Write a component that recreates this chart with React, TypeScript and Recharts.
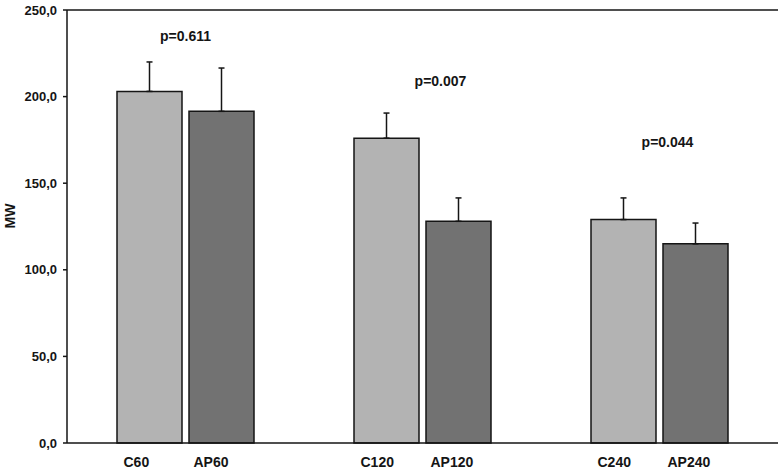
import { BarChart, Bar, XAxis, YAxis, ErrorBar, ReferenceLine, ReferenceDot } from 'recharts';

const groups = ['60', '120', '240'];
const cValues = [203, 176, 129];
const apValues = [191.5, 128, 115];
const cErrors = [17, 14.5, 12.5];
const apErrors = [25, 13.5, 12];
const pLabels = ['p=0.611', 'p=0.007', 'p=0.044'];
const pY = [235, 209, 174];
const yTicks = [0, 50, 100, 150, 200, 250];

// small horizontal nudges of the p annotations relative to group centre
const pDx = [0, 18, 8];

const data = groups.map((g, i) => ({
  group: g,
  C: cValues[i],
  AP: apValues[i],
  cErr: [0, cErrors[i]],
  apErr: [0, apErrors[i]],
}));

const FONT = '"Liberation Sans", Arial, sans-serif';
const INK = '#151515';

function GroupTick(props: any) {
  const { x, y, payload } = props;
  return (
    <g fontFamily={FONT} fontWeight="bold" fontSize={14} fill={INK}>
      <text x={x - 62} y={y + 16} textAnchor="start">{`C${payload.value}`}</text>
      <text x={x + 8} y={y + 16} textAnchor="start">{`AP${payload.value}`}</text>
    </g>
  );
}

export default function App() {
  return (
    <div style={{ position: 'absolute', left: 0, top: 0, background: '#fff', fontFamily: FONT }}>
      <BarChart
        width={781}
        height={472}
        data={data}
        margin={{ top: 10, right: 3, bottom: 0, left: 0 }}
        barSize={65}
        barGap={7}
      >
        <XAxis
          dataKey="group"
          height={29}
          tickLine={false}
          axisLine={{ stroke: INK, strokeWidth: 1.5 }}
          tick={<GroupTick />}
          interval={0}
        />
        <YAxis
          width={67}
          domain={[0, 250]}
          ticks={yTicks}
          tickSize={4}
          tickMargin={6}
          tickFormatter={(v: number) => v.toFixed(1).replace('.', ',')}
          tick={{ fill: INK, fontSize: 13, fontWeight: 'bold', fontFamily: FONT }}
          axisLine={{ stroke: INK, strokeWidth: 1.5 }}
          tickLine={{ stroke: INK, strokeWidth: 1.5 }}
          label={{
            content: () => (
              <text
                transform="translate(15,216) rotate(-90)"
                textAnchor="middle"
                fontFamily={FONT}
                fontWeight="bold"
                fontSize={14}
                fill={INK}
              >
                MW
              </text>
            ),
          }}
        />
        <YAxis
          yAxisId="right"
          orientation="right"
          width={0}
          domain={[0, 250]}
          tick={false}
          tickLine={false}
          axisLine={{ stroke: INK, strokeWidth: 1.5 }}
        />
        <ReferenceLine y={250} stroke={INK} strokeWidth={1.5} />
        <Bar dataKey="C" fill="#b3b3b3" stroke={INK} strokeWidth={1.5} isAnimationActive={false}>
          <ErrorBar dataKey="cErr" direction="y" width={3} stroke={INK} strokeWidth={1.5} isAnimationActive={false} />
        </Bar>
        <Bar dataKey="AP" fill="#727272" stroke={INK} strokeWidth={1.5} isAnimationActive={false}>
          <ErrorBar dataKey="apErr" direction="y" width={3} stroke={INK} strokeWidth={1.5} isAnimationActive={false} />
        </Bar>
        {groups.map((g, i) => (
          <ReferenceDot
            key={g}
            x={g}
            y={pY[i]}
            r={0}
            shape={(p: any) => (
              <text
                x={p.cx + pDx[i]}
                y={p.cy + 5}
                textAnchor="middle"
                fontFamily={FONT}
                fontWeight="bold"
                fontSize={14}
                fill={INK}
              >
                {pLabels[i]}
              </text>
            )}
          />
        ))}
      </BarChart>
    </div>
  );
}
